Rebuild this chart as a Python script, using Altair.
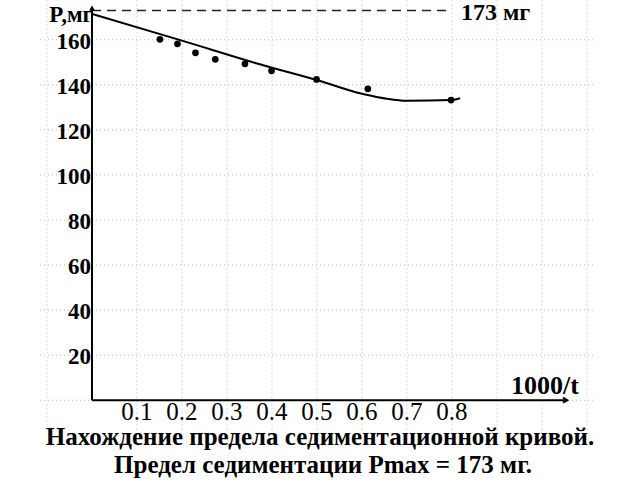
import altair as alt
import pandas as pd

# measured points (1000/t, P mg)
pt_x = [0.151, 0.190, 0.230, 0.274, 0.340, 0.399, 0.499, 0.613, 0.798]
pt_y = [160.2, 158.2, 154.2, 151.3, 149.3, 146.2, 142.4, 138.2, 133.2]
# hand-drawn sedimentation curve
curve_x = [0.0, 0.2, 0.373, 0.5, 0.6, 0.7, 0.8, 0.818]
curve_y = [171.5, 159.6, 149.1, 142.1, 136.0, 132.9, 133.2, 134.0]
# axes ticks / grid
x_ticks = [0.1, 0.2, 0.3, 0.4, 0.5, 0.6, 0.7, 0.8]
x_labels = ["0.1", "0.2", "0.3", "0.4", "0.5", "0.6", "0.7", "0.8"]
y_ticks = [20, 40, 60, 80, 100, 120, 140, 160]
grid_x = [-0.1, 0.1, 0.2, 0.3, 0.4, 0.5, 0.6, 0.7, 0.8, 0.9, 1.0, 1.1]
grid_y = [0, 20, 40, 60, 80, 100, 120, 140, 160]
pmax = 173

FONT = "Liberation Serif"
XD = [-0.2044, 1.2178]
YD = [-35.42, 177.64]
xs = alt.Scale(domain=XD, nice=False, zero=False)
ys = alt.Scale(domain=YD, nice=False, zero=False)

def X(field, **kw):
    return alt.X(field, type="quantitative", scale=xs, axis=None, **kw)

def Y(field, **kw):
    return alt.Y(field, type="quantitative", scale=ys, axis=None, **kw)

pts = pd.DataFrame({"x": pt_x, "y": pt_y})
crv = pd.DataFrame({"x": curve_x, "y": curve_y})
vgrid = pd.DataFrame({"x": grid_x, "y1": [-13] * len(grid_x), "y2": [177.6] * len(grid_x)})
hgrid = pd.DataFrame({"y": grid_y, "x1": [-0.1156] * len(grid_y), "x2": [1.118] * len(grid_y)})
xt = pd.DataFrame({"x": x_ticks, "label": x_labels, "y": [0] * len(x_ticks)})
yt = pd.DataFrame({"y": y_ticks, "label": [str(v) for v in y_ticks], "x": [0] * len(y_ticks)})
axes_df = pd.DataFrame({"x1": [0, 0], "x2": [0, 1.056], "y1": [0, 0], "y2": [174.5, 0]})
pm = pd.DataFrame({"x1": [0], "x2": [0.8], "y": [pmax], "label": [f"{pmax} мг"]})
arrow_r = pd.DataFrame({"x": [1.056], "y": [0]})
arrow_u = pd.DataFrame({"x": [0], "y": [174.5]})

grid_style = dict(color="#b5b5b5", strokeWidth=1, strokeDash=[1, 3])

vg = alt.Chart(vgrid).mark_rule(**grid_style).encode(x=X("x"), y=Y("y1"), y2="y2")
hg = alt.Chart(hgrid).mark_rule(**grid_style).encode(y=Y("y"), x=X("x1"), x2="x2")

axes = alt.Chart(axes_df).mark_rule(color="black", strokeWidth=2).encode(
    x=X("x1"), x2="x2", y=Y("y1"), y2="y2")
ar = alt.Chart(arrow_r).mark_point(
    shape="M-1,-0.6L0,0L-1,0.6", filled=False, color="black", strokeWidth=2, size=70, opacity=1
).encode(x=X("x"), y=Y("y"))
au = alt.Chart(arrow_u).mark_point(
    shape="M-0.6,1L0,0L0.6,1", filled=False, color="black", strokeWidth=1.5, size=50, opacity=1
).encode(x=X("x"), y=Y("y"))

dash = alt.Chart(pm).mark_rule(color="#222", strokeWidth=1.5, strokeDash=[9, 6]).encode(
    x=X("x1"), x2="x2", y=Y("y"))
dash_lbl = alt.Chart(pm).mark_text(
    font=FONT, fontSize=24, fontWeight="bold", align="left", baseline="middle", dx=9, dy=3
).encode(x=X("x2"), y=Y("y"), text="label")

line = alt.Chart(crv).mark_line(color="black", strokeWidth=2, interpolate="monotone").encode(
    x=X("x"), y=Y("y"))
dots = alt.Chart(pts).mark_circle(color="black", size=45, opacity=1).encode(x=X("x"), y=Y("y"))

xl = alt.Chart(xt).mark_text(
    font=FONT, fontSize=25, align="center", baseline="top", dy=0
).encode(x=X("x"), y=Y("y"), text="label")
yl = alt.Chart(yt).mark_text(
    font=FONT, fontSize=23, fontWeight="bold", align="right", baseline="middle", dx=-1, dy=2
).encode(x=X("x"), y=Y("y"), text="label")

p_lbl = alt.Chart(pd.DataFrame({"t": ["P,мг"]})).mark_text(
    font=FONT, fontSize=23, fontWeight="bold", align="right", baseline="alphabetic"
).encode(x=alt.value(93), y=alt.value(22), text="t")
t_lbl = alt.Chart(pd.DataFrame({"t": ["1000/t"]})).mark_text(
    font=FONT, fontSize=26, fontWeight="bold", align="center", baseline="alphabetic"
).encode(x=alt.value(545), y=alt.value(394), text="t")
cap1 = alt.Chart(pd.DataFrame({"t": ["Нахождение предела седиментационной кривой."]})).mark_text(
    font=FONT, fontSize=25, fontWeight="bold", align="center", baseline="alphabetic"
).encode(x=alt.value(320), y=alt.value(445), text="t")
cap2 = alt.Chart(pd.DataFrame({"t": ["Предел седиментации  Pmax = 173 мг."]})).mark_text(
    font=FONT, fontSize=25, fontWeight="bold", align="center", baseline="alphabetic"
).encode(x=alt.value(323), y=alt.value(473), text="t")

chart = alt.layer(
    vg, hg, dash, axes, ar, au, line, dots, xl, yl, dash_lbl, p_lbl, t_lbl, cap1, cap2
).properties(
    width=640, height=480, padding=0, autosize=alt.AutoSizeParams(type="none"),
    background="white"
).configure_view(stroke=None)

chart.save("out.html", embed_options={"renderer": "svg", "actions": False})
